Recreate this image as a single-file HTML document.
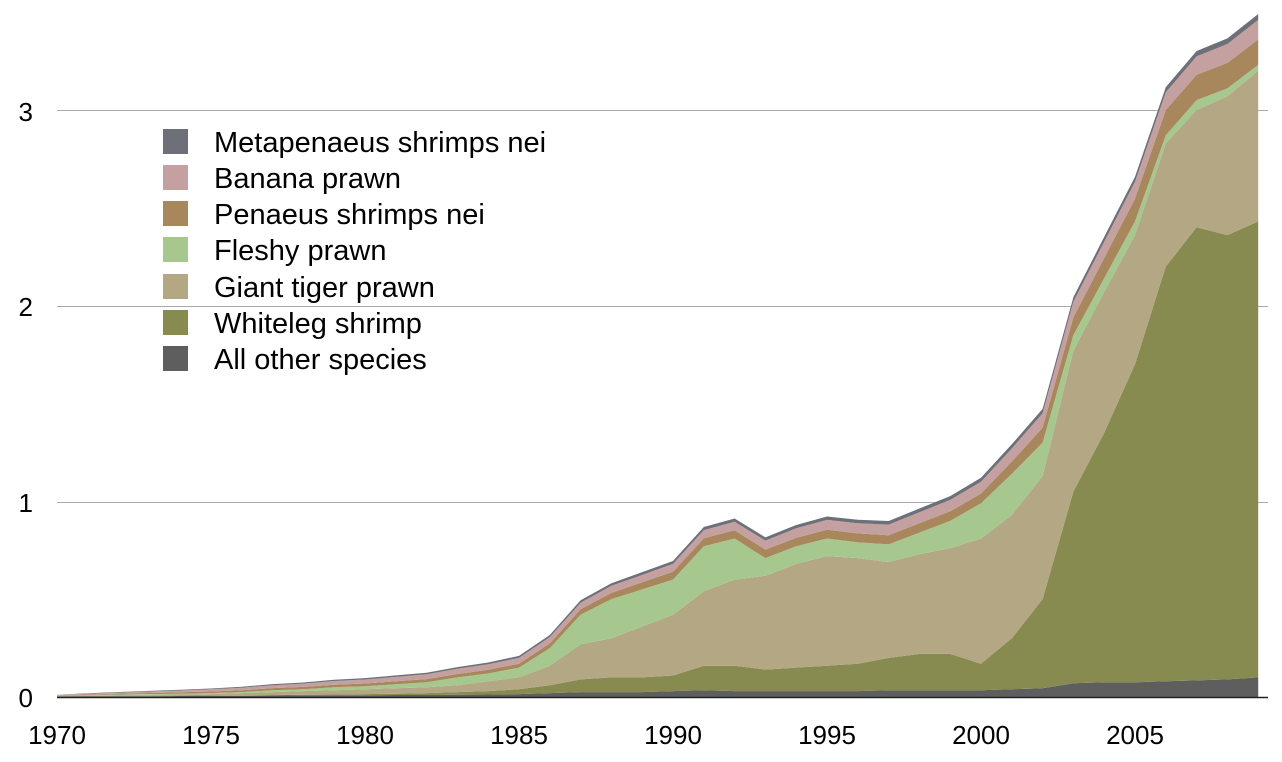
<!DOCTYPE html>
<html><head><meta charset="utf-8"><style>
html,body{margin:0;padding:0;background:#fff;}
svg{display:block;font-family:"Liberation Sans",sans-serif;}
</style></head><body>
<svg id="c" width="1282" height="762" xmlns="http://www.w3.org/2000/svg">
<g id="grid" stroke="#aaa" stroke-width="1">
<line x1="57" x2="1268" y1="110.5" y2="110.5"/>
<line x1="57" x2="1268" y1="306.5" y2="306.5"/>
<line x1="57" x2="1268" y1="502.5" y2="502.5"/>
</g>
<g id="areas"></g>
<line x1="57" x2="1268" y1="697.5" y2="697.5" stroke="#222" stroke-width="1.5"/>
<g font-size="26" fill="#000" text-anchor="end">
<text x="33" y="707">0</text>
<text x="33" y="512">1</text>
<text x="33" y="316">2</text>
<text x="33" y="121">3</text>
</g>
<g font-size="26" fill="#000" text-anchor="middle" id="xl"></g>
<g font-size="29" fill="#000">
<rect x="163" y="129" width="25" height="25" fill="#6d7078"/><text x="214" y="152">Metapenaeus shrimps nei</text>
<rect x="163" y="165" width="25" height="25" fill="#c4a0a0"/><text x="214" y="188">Banana prawn</text>
<rect x="163" y="201" width="25" height="25" fill="#a9875d"/><text x="214" y="224">Penaeus shrimps nei</text>
<rect x="163" y="237" width="25" height="25" fill="#a6c88f"/><text x="214" y="260">Fleshy prawn</text>
<rect x="163" y="274" width="25" height="25" fill="#b3a883"/><text x="214" y="297">Giant tiger prawn</text>
<rect x="163" y="310" width="25" height="25" fill="#878b50"/><text x="214" y="333">Whiteleg shrimp</text>
<rect x="163" y="346" width="25" height="25" fill="#5e5e5e"/><text x="214" y="369">All other species</text>
</g>
</svg>
<script>
(function(){
var NS="http://www.w3.org/2000/svg";
function X(y){return 57+(y-1970)*30.8;}
function Y(v){return 697-v*195.7;}
var other=[.003,.003,.004,.004,.005,.005,.006,.007,.008,.008,.009,.01,.01,.012,.013,.015,.02,.025,.025,.025,.03,.035,.03,.03,.03,.03,.03,.035,.035,.035,.035,.04,.045,.07,.075,.075,.08,.085,.09,.1];
var white=[.004,.005,.006,.006,.007,.008,.009,.01,.012,.013,.015,.017,.02,.025,.03,.04,.06,.09,.1,.1,.11,.16,.16,.14,.15,.16,.17,.2,.22,.22,.17,.3,.5,1.05,1.35,1.7,2.2,2.4,2.36,2.43];
var giant=[.006,.008,.01,.011,.013,.015,.02,.025,.03,.035,.04,.045,.05,.06,.08,.1,.16,.27,.3,.36,.42,.54,.6,.62,.68,.72,.71,.69,.73,.76,.81,.93,1.13,1.77,2.07,2.36,2.83,3.0,3.07,3.2];
var fleshy=[.007,.01,.013,.015,.017,.02,.025,.035,.04,.05,.055,.065,.075,.1,.12,.15,.25,.42,.5,.55,.6,.77,.81,.71,.77,.81,.79,.78,.84,.9,.99,1.14,1.3,1.85,2.14,2.43,2.87,3.05,3.11,3.23];
function interp(pts,y){for(var i=0;i<pts.length-1;i++){if(y<=pts[i+1][0]){var t=(y-pts[i][0])/(pts[i+1][0]-pts[i][0]);return pts[i][1]+t*(pts[i+1][1]-pts[i][1]);}}return pts[pts.length-1][1];}
var pT=[[1970,.002],[1985,.02],[1990,.04],[2000,.05],[2003,.09],[2006,.13],[2009,.13]];
var bT=[[1970,.002],[1985,.03],[1990,.04],[2000,.06],[2003,.08],[2009,.1]];
var mT=[[1970,.001],[1985,.01],[1990,.015],[2000,.02],[2009,.03]];
var pen=[],ban=[],tot=[];
for(var i=0;i<40;i++){var y=1970+i;pen.push(fleshy[i]+interp(pT,y));ban.push(pen[i]+interp(bT,y));tot.push(ban[i]+interp(mT,y));}
var zero=[];for(i=0;i<40;i++)zero.push(0);
var layers=[[zero,other,"#5e5e5e"],[other,white,"#878b50"],[white,giant,"#b3a883"],[giant,fleshy,"#a6c88f"],[fleshy,pen,"#a9875d"],[pen,ban,"#c4a0a0"],[ban,tot,"#6d7078"]];
var g=document.getElementById("areas");
layers.forEach(function(L){var d="M";for(var i=0;i<40;i++)d+=X(1970+i).toFixed(1)+","+Y(L[1][i]).toFixed(1)+" L";for(i=39;i>=0;i--)d+=X(1970+i).toFixed(1)+","+Y(L[0][i]).toFixed(1)+(i?" L":"");d+="Z";var p=document.createElementNS(NS,"path");p.setAttribute("d",d);p.setAttribute("fill",L[2]);g.appendChild(p);});
var xl=document.getElementById("xl");
for(var yr=1970;yr<=2005;yr+=5){var t=document.createElementNS(NS,"text");t.setAttribute("x",X(yr));t.setAttribute("y",744);t.textContent=yr;xl.appendChild(t);}
})();
</script>
</body></html>
